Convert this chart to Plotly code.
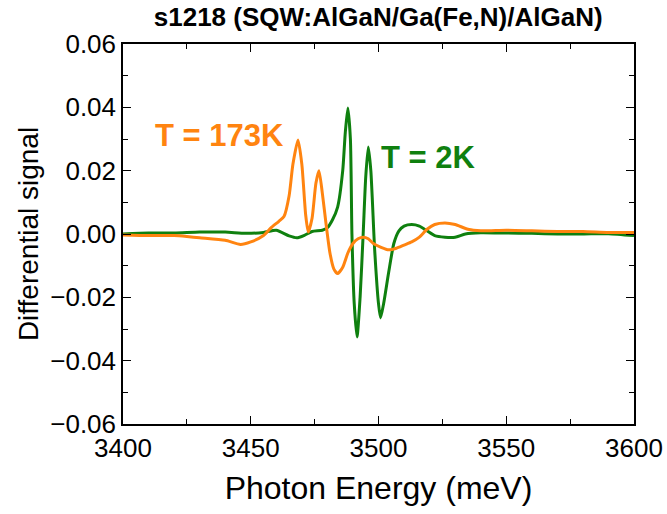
import plotly.graph_objects as go

# 2K (green) series
energy_2k = [3400, 3410, 3420, 3430, 3440, 3448, 3455, 3460, 3465, 3468, 3471, 3474, 3478,
             3480, 3482, 3484, 3486, 3487, 3488, 3489, 3489.6, 3490.5, 3491.6, 3492.8, 3494,
             3495, 3496, 3497, 3498.5, 3500, 3500.8, 3502, 3504, 3506, 3508, 3510, 3513,
             3516, 3519, 3522, 3526, 3530, 3534, 3540, 3550, 3560, 3570, 3580, 3590, 3600]
signal_2k = [0.0000, 0.0003, 0.0003, 0.0006, 0.0006, 0.0002, 0.0005, 0.0012, -0.0006, -0.0012,
             -0.0004, 0.0008, 0.0012, 0.0020, 0.0045, 0.0085, 0.0200, 0.0320, 0.0398, 0.0300,
             0.0000, -0.0220, -0.0325, -0.0200, 0.0000, 0.0180, 0.0275, 0.0200, -0.0050,
             -0.0220, -0.0265, -0.0220, -0.0120, -0.0030, 0.0010, 0.0025, 0.0030, 0.0025,
             0.0010, -0.0005, -0.0010, -0.0010, 0.0000, 0.0004, 0.0003, 0.0002, 0.0000,
             0.0000, 0.0001, -0.0005]

# 173K (orange) series
energy_173k = [3400, 3410, 3420, 3425, 3430, 3440, 3446, 3450, 3455, 3458, 3461, 3463, 3465,
               3466.5, 3468.5, 3470, 3471.5, 3472.5, 3474, 3475.5, 3476.7, 3478, 3479.5,
               3481, 3482.5, 3484, 3486, 3488, 3490, 3492, 3494, 3496, 3498, 3501, 3504,
               3507, 3510, 3513, 3516, 3519, 3522, 3526, 3530, 3535, 3540, 3550, 3560, 3570,
               3580, 3590, 3600]
signal_173k = [-0.0003, -0.0005, -0.0005, -0.0008, -0.0012, -0.0020, -0.0033, -0.0025,
               -0.0005, 0.0020, 0.0040, 0.0055, 0.0120, 0.0220, 0.0297, 0.0220, 0.0060,
               0.0006, 0.0050, 0.0160, 0.0200, 0.0130, 0.0030, -0.0060, -0.0110, -0.0125,
               -0.0105, -0.0060, -0.0030, -0.0015, -0.0010, -0.0015, -0.0030, -0.0042,
               -0.0050, -0.0045, -0.0035, -0.0025, -0.0010, 0.0015, 0.0030, 0.0035, 0.0030,
               0.0015, 0.0010, 0.0012, 0.0010, 0.0008, 0.0008, 0.0005, 0.0005]

x_ticks = [3400, 3450, 3500, 3550, 3600]
y_ticks = [-0.06, -0.04, -0.02, 0.00, 0.02, 0.04, 0.06]

GREEN = "#0f800f"
ORANGE = "#ff8410"
FONT = "Arial, Liberation Sans"

fig = go.Figure()
fig.add_trace(go.Scatter(x=energy_2k, y=signal_2k, mode="lines",
                         line=dict(color=GREEN, width=3, shape="spline", smoothing=0.6),
                         showlegend=False))
fig.add_trace(go.Scatter(x=energy_173k, y=signal_173k, mode="lines",
                         line=dict(color=ORANGE, width=3, shape="spline", smoothing=0.6),
                         showlegend=False))

fig.add_annotation(x=3437.6, y=0.031, text="<b>T = 173K</b>", showarrow=False,
                   font=dict(family=FONT, size=31, color=ORANGE))
fig.add_annotation(x=3519.6, y=0.0243, text="<b>T = 2K</b>", showarrow=False,
                   font=dict(family=FONT, size=31, color=GREEN))

axis_common = dict(showline=True, linecolor="black", linewidth=1.5, mirror="ticks",
                   ticks="inside", ticklen=8, tickwidth=1.2, tickcolor="black",
                   showgrid=False, zeroline=False, automargin=False,
                   tickfont=dict(family=FONT, size=26, color="black"))

fig.update_layout(
    width=667, height=514,
    margin=dict(l=123, r=33, t=44, b=90),
    plot_bgcolor="white", paper_bgcolor="white",
    title=dict(text="<b>s1218 (SQW:AlGaN/Ga(Fe,N)/AlGaN)</b>", x=0.567, xanchor="center",
               y=0.967, yanchor="middle",
               font=dict(family=FONT, size=26, color="black")),
    xaxis=dict(range=[3400, 3600], tickvals=x_ticks, ticktext=[str(v) for v in x_ticks],
               minor=dict(ticks="inside", ticklen=5, dtick=25, tickcolor="black"),
               title=dict(text="Photon Energy (meV)",
                          font=dict(family=FONT, size=32, color="black")),
               **axis_common),
    yaxis=dict(range=[-0.06, 0.06], tickvals=y_ticks, tickformat=".2f",
               minor=dict(ticks="inside", ticklen=5, dtick=0.01, tickcolor="black"),
               title=dict(text="Differential signal", standoff=3,
                          font=dict(family=FONT, size=28, color="black")),
               **axis_common),
)

fig.write_html("out.html")
